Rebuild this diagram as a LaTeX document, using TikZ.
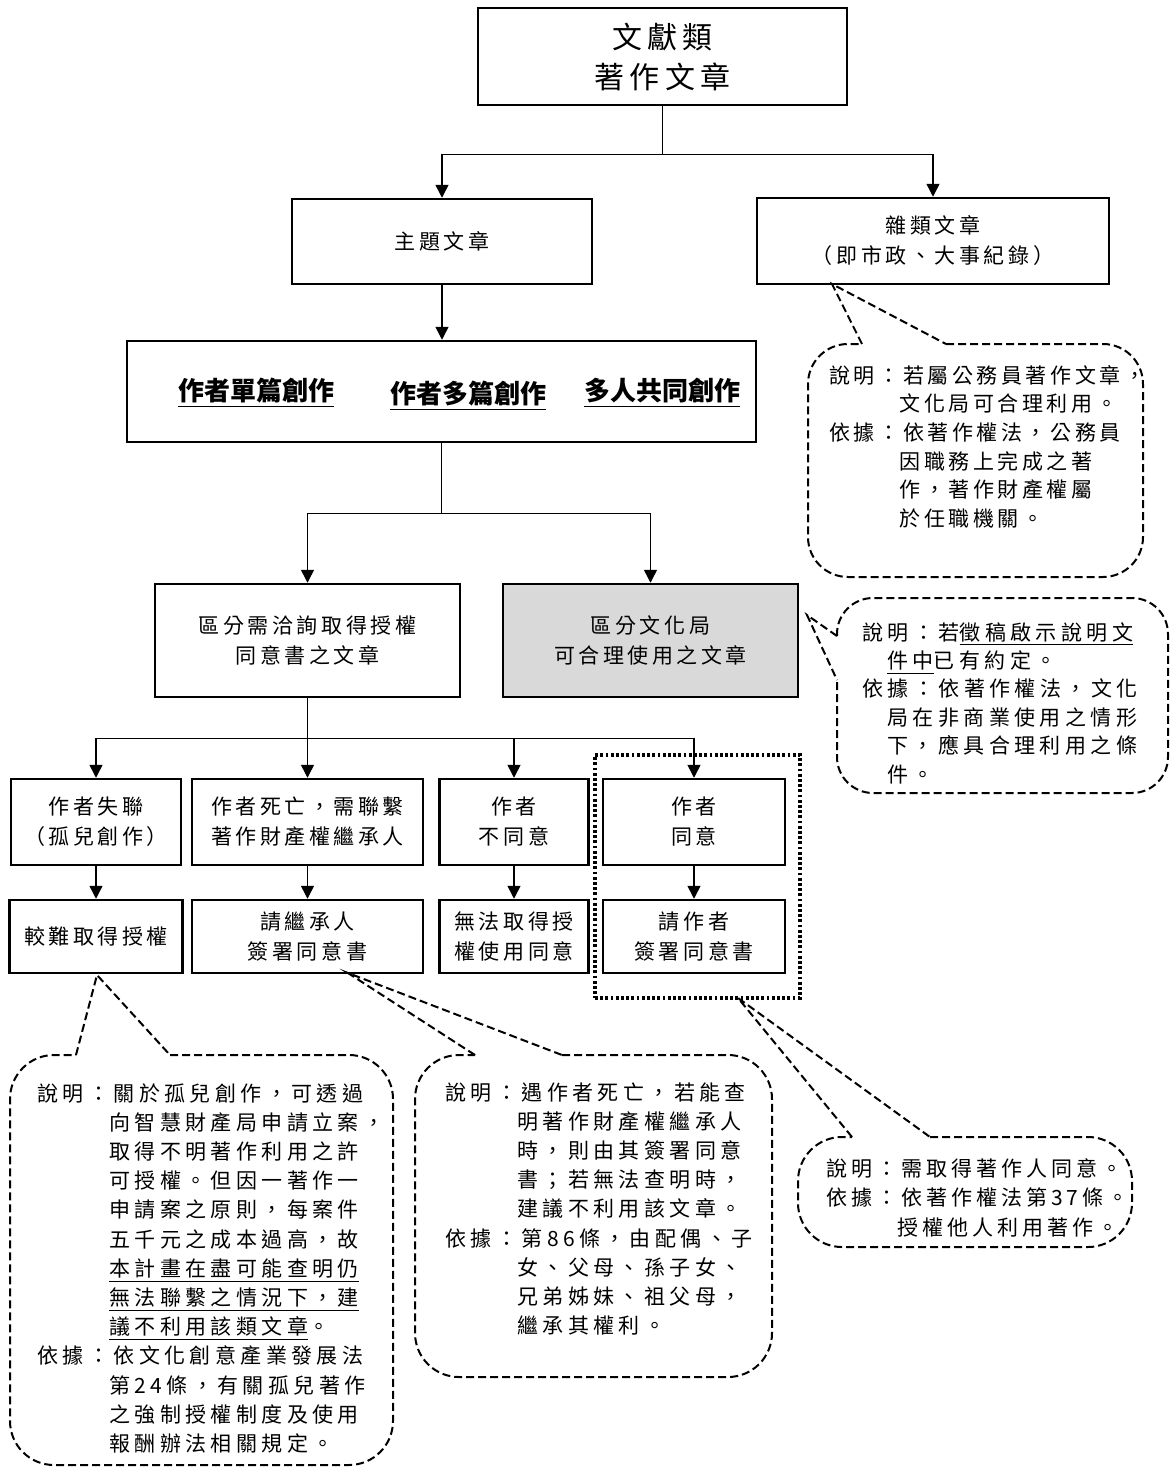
\documentclass[tikz,border=0pt]{standalone}
\usepackage{fontspec}
\setmainfont{Noto Sans CJK TC}[LetterSpace=17]
\newfontfamily\plaincjk{Noto Sans CJK TC}
\newfontfamily\widecjk{Noto Sans CJK TC}[LetterSpace=21]
\newfontfamily\midcjk{Noto Sans CJK TC}[LetterSpace=19]
\usetikzlibrary{arrows.meta}
\definecolor{grayfill}{HTML}{D9D9D9}
\newcommand{\boxfont}{\fontsize{10.5pt}{15pt}\selectfont}
\newcommand{\calfont}{\fontsize{10.5pt}{14.5pt}\selectfont}
\newcommand{\hang}{\hphantom{說明：}}
\newcommand{\hcont}{\hphantom{說}\hspace*{2pt}}
\begin{document}
\begin{tikzpicture}[x=0.5pt,y=-0.5pt,
  box/.style={draw, line width=1.25pt, inner sep=0pt, align=center, font=\boxfont},
  bigtxt/.style={inner sep=0pt, font={\plaincjk\bfseries\fontsize{13pt}{15pt}\selectfont}},
  conn/.style={line width=0.75pt},
  arr/.style={line width=0.75pt, -{Triangle[width=6.5pt,length=6.5pt]}},
  callout/.style={line width=1pt, dash pattern=on 4pt off 2pt},
  caltext/.style={anchor=north west, inner sep=0pt, align=left, font=\calfont},
  dotbox/.style={draw, line width=1.6pt, dash pattern=on 1.4pt off 1.2pt, inner sep=0pt}]
\useasboundingbox (0,0) rectangle (1171,1468);

% main boxes
\node[box, minimum width=184.5pt, minimum height=48.5pt,
      font=\fontsize{15pt}{20pt}\selectfont] (top) at (662.5,56.5) {文獻類\\著作文章};
\node[box, minimum width=150pt, minimum height=42.5pt] (zhuti) at (442,241.5) {主題文章};
\node[box, minimum width=176pt, minimum height=43pt] (zalei) at (933,241) {雜類文章\\（即市政、大事紀錄）};
\node[box, minimum width=314.5pt, minimum height=50.5pt] (big) at (441.5,391.5) {};
\node[bigtxt] (t1) at (256,393) {\underline{作者單篇創作}};
\node[bigtxt] (t2) at (468,396) {\underline{作者多篇創作}};
\node[bigtxt] (t3) at (662,393) {\underline{多人共同創作}};

\node[box, minimum width=152.5pt, minimum height=56.5pt] (need) at (307.5,640.5) {區分需洽詢取得授權\\同意書之文章};
\node[box, fill=grayfill, minimum width=147.5pt, minimum height=56.5pt] (fair) at (650.5,640.5) {區分文化局\\可合理使用之文章};

\node[box, minimum width=85pt, minimum height=43pt] (a1) at (96,822) {作者失聯\\（孤兒創作）};
\node[box, minimum width=115.5pt, minimum height=43pt] (a2) at (307.5,822) {作者死亡，需聯繫\\著作財產權繼承人};
\node[box, minimum width=74.5pt, minimum height=43pt] (a3) at (514,822) {作者\\不同意};
\node[box, minimum width=91pt, minimum height=43pt] (a4) at (694,822) {作者\\同意};

\node[box, minimum width=86.5pt, minimum height=36.5pt] (b1) at (96,936.5) {較難取得授權};
\node[box, minimum width=115.5pt, minimum height=36.5pt] (b2) at (307.5,936.5) {請繼承人\\簽署同意書};
\node[box, minimum width=74.5pt, minimum height=36.5pt] (b3) at (514,936.5) {無法取得授\\權使用同意};
\node[box, minimum width=91pt, minimum height=36.5pt] (b4) at (694,936.5) {請作者\\簽署同意書};

\node[dotbox, minimum width=102.5pt, minimum height=121.5pt] (grp) at (697.5,876.5) {};

% connectors
\draw[conn] (top.south) -- ++(0,48) coordinate (j1);
\draw[arr] (j1) -| (zhuti.north);
\draw[arr] (j1) -| (zalei.north);
\draw[arr] (zhuti.south) -- (zhuti.south |- big.north);
\draw[conn] (big.south) -- ++(0,70) coordinate (j2);
\draw[arr] (j2) -| (need.north);
\draw[arr] (j2) -| (fair.north);
\draw[conn] (need.south) -- ++(0,40) coordinate (j3);
\draw[arr] (j3) -| (a1.north);
\draw[arr] (j3) -- (a2.north);
\draw[arr] (j3) -| (a3.north);
\draw[arr] (j3) -| (a4.north);
\draw[arr] (a1.south) -- (b1.north);
\draw[arr] (a2.south) -- (b2.north);
\draw[arr] (a3.south) -- (b3.north);
\draw[arr] (a4.south) -- (b4.north);

% callout 1 (zalei)
\coordinate (c1tip) at (832,284);
\draw[callout, rounded corners=20pt] (946,344) -- (1143,344) -- (1143,577) -- (808,577) -- (808,344) -- (862,344);
\draw[callout] (862,344) -- (c1tip) -- (946,344);
\node[caltext, font=\fontsize{10.5pt}{14.3pt}\selectfont] (c1) at (829,365) {說明：若屬公務員著作文章，\\
\hang 文化局可合理利用。\\
依據：依著作權法，公務員\\
\hang 因職務上完成之著\\
\hang 作，著作財產權屬\\
\hang 於任職機關。};

% callout 2 (fair)
\coordinate (c2tip) at (807,615);
\draw[callout, rounded corners=18pt] (837,636) -- (837,598) -- (1168,598) -- (1168,793) -- (837,793) -- (837,680);
\draw[callout] (837,636) -- (c2tip) -- (837,680);
\node[caltext, font=\widecjk\fontsize{10.5pt}{14.2pt}\selectfont] (c2) at (862,622) {說明：若\underline{徵稿啟示說明文}\\
\hcont\underline{件中}已有約定。\\
依據：依著作權法，文化\\
\hcont 局在非商業使用之情形\\
\hcont 下，應具合理利用之條\\
\hcont 件。};

% callout 3 (orphan)
\coordinate (c3tip) at (97,975);
\draw[callout, rounded corners=22pt] (170,1055) -- (393,1055) -- (393,1465) -- (10,1465) -- (10,1055) -- (76,1055);
\draw[callout] (76,1055) -- (c3tip) -- (170,1055);
\node[caltext, font=\widecjk\fontsize{10.5pt}{14.6pt}\selectfont] (c3) at (37,1083) {說明：關於孤兒創作，可透過\\
\hang 向智慧財產局申請立案，\\
\hang 取得不明著作利用之許\\
\hang 可授權。但因一著作一\\
\hang 申請案之原則，每案件\\
\hang 五千元之成本過高，故\\
\hang \underline{本計畫在盡可能查明仍}\\
\hang \underline{無法聯繫之情況下，建}\\
\hang \underline{議不利用該類文章}。\\
依據：依文化創意產業發展法\\
\hang 第24條，有關孤兒著作\\
\hang 之強制授權制度及使用\\
\hang 報酬辦法相關規定。};

% callout 4 (heir)
\coordinate (c4tip) at (348,973);
\draw[callout, rounded corners=22pt] (562,1055) -- (772,1055) -- (772,1377) -- (415,1377) -- (415,1055) -- (475,1055);
\draw[callout] (475,1055) -- (c4tip) -- (562,1055);
\node[caltext, font=\widecjk\fontsize{10.5pt}{14.6pt}\selectfont] (c4) at (445,1082) {說明：遇作者死亡，若能查\\
\hang 明著作財產權繼承人\\
\hang 時，則由其簽署同意\\
\hang 書；若無法查明時，\\
\hang 建議不利用該文章。\\
依據：第86條，由配偶、子\\
\hang 女、父母、孫子女、\\
\hang 兄弟姊妹、祖父母，\\
\hang 繼承其權利。};

% callout 5 (agree)
\coordinate (c5tip) at (738,998);
\draw[callout, rounded corners=22pt] (930,1137) -- (1132,1137) -- (1132,1247) -- (798,1247) -- (798,1137) -- (852,1137);
\draw[callout] (852,1137) -- (c5tip) -- (930,1137);
\node[caltext, font=\midcjk\fontsize{10.5pt}{14.7pt}\selectfont] (c5) at (826,1158) {說明：需取得著作人同意。\\
依據：依著作權法第37條。\\
\hang 授權他人利用著作。};
\end{tikzpicture}
\end{document}
